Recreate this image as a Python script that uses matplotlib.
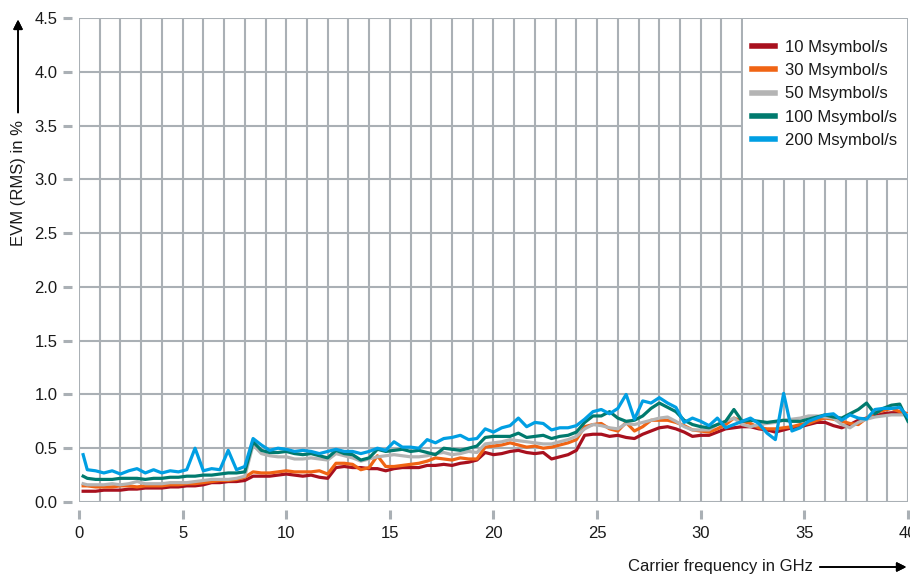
import matplotlib
matplotlib.use('Agg')
import matplotlib.pyplot as plt
from matplotlib.patches import Rectangle
import numpy as np

plt.rcParams['font.family'] = ['Liberation Sans', 'DejaVu Sans']

# Carrier frequency in GHz (first point at 0.2, then every 0.4 GHz)
freq = np.round(np.r_[0.2, np.arange(0.4, 40.01, 0.4)], 1)

# EVM (RMS) in %
evm_10 = [0.10,
          0.10, 0.10, 0.11, 0.11, 0.11, 0.12, 0.12, 0.13, 0.13, 0.13,
          0.14, 0.14, 0.15, 0.15, 0.16, 0.18, 0.18, 0.19, 0.19, 0.20,
          0.24, 0.24, 0.24, 0.25, 0.26, 0.25, 0.24, 0.25, 0.23, 0.22,
          0.32, 0.33, 0.32, 0.32, 0.31, 0.31, 0.29, 0.31, 0.32, 0.32,
          0.32, 0.34, 0.34, 0.35, 0.34, 0.36, 0.37, 0.39, 0.46, 0.44,
          0.45, 0.47, 0.48, 0.46, 0.45, 0.46, 0.40, 0.42, 0.44, 0.48,
          0.62, 0.63, 0.63, 0.61, 0.62, 0.60, 0.59, 0.63, 0.66, 0.69,
          0.70, 0.68, 0.65, 0.61, 0.62, 0.62, 0.65, 0.68, 0.69, 0.70,
          0.70, 0.68, 0.67, 0.65, 0.67, 0.69, 0.70, 0.72, 0.74, 0.74,
          0.71, 0.69, 0.72, 0.76, 0.78, 0.80, 0.82, 0.83, 0.83, 0.82]

evm_30 = [0.15,
          0.15, 0.14, 0.14, 0.14, 0.15, 0.15, 0.14, 0.15, 0.15, 0.15,
          0.16, 0.16, 0.17, 0.17, 0.18, 0.19, 0.20, 0.20, 0.21, 0.23,
          0.28, 0.27, 0.27, 0.28, 0.29, 0.28, 0.28, 0.28, 0.29, 0.26,
          0.36, 0.36, 0.35, 0.30, 0.32, 0.43, 0.33, 0.33, 0.34, 0.35,
          0.36, 0.38, 0.41, 0.40, 0.39, 0.41, 0.40, 0.40, 0.51, 0.52,
          0.53, 0.55, 0.53, 0.51, 0.52, 0.50, 0.51, 0.53, 0.55, 0.58,
          0.70, 0.72, 0.73, 0.68, 0.66, 0.74, 0.66, 0.70, 0.76, 0.76,
          0.76, 0.74, 0.71, 0.67, 0.66, 0.65, 0.68, 0.72, 0.78, 0.75,
          0.73, 0.69, 0.68, 0.68, 0.69, 0.70, 0.72, 0.73, 0.76, 0.78,
          0.77, 0.75, 0.73, 0.72, 0.78, 0.83, 0.85, 0.87, 0.84, 0.82]

evm_50 = [0.17,
          0.16, 0.16, 0.16, 0.17, 0.16, 0.17, 0.19, 0.17, 0.17, 0.17,
          0.18, 0.18, 0.18, 0.19, 0.20, 0.21, 0.21, 0.21, 0.22, 0.24,
          0.53, 0.45, 0.43, 0.42, 0.42, 0.40, 0.40, 0.41, 0.40, 0.39,
          0.45, 0.43, 0.41, 0.38, 0.40, 0.42, 0.43, 0.44, 0.43, 0.42,
          0.42, 0.43, 0.45, 0.46, 0.44, 0.45, 0.47, 0.46, 0.54, 0.55,
          0.56, 0.58, 0.57, 0.56, 0.55, 0.54, 0.54, 0.56, 0.58, 0.61,
          0.68, 0.72, 0.71, 0.69, 0.68, 0.73, 0.72, 0.74, 0.76, 0.78,
          0.79, 0.75, 0.70, 0.67, 0.67, 0.67, 0.72, 0.75, 0.78, 0.72,
          0.70, 0.72, 0.73, 0.74, 0.76, 0.77, 0.78, 0.80, 0.80, 0.79,
          0.78, 0.72, 0.69, 0.74, 0.77, 0.79, 0.80, 0.81, 0.81, 0.81]

evm_100 = [0.24,
           0.22, 0.21, 0.21, 0.21, 0.22, 0.22, 0.22, 0.21, 0.22, 0.22,
           0.23, 0.23, 0.24, 0.24, 0.25, 0.25, 0.26, 0.27, 0.27, 0.28,
           0.56, 0.48, 0.46, 0.46, 0.47, 0.45, 0.44, 0.45, 0.43, 0.41,
           0.48, 0.45, 0.44, 0.39, 0.41, 0.49, 0.47, 0.48, 0.49, 0.47,
           0.48, 0.46, 0.44, 0.50, 0.49, 0.48, 0.50, 0.52, 0.60, 0.61,
           0.61, 0.61, 0.64, 0.60, 0.61, 0.62, 0.59, 0.61, 0.62, 0.65,
           0.74, 0.80, 0.80, 0.84, 0.78, 0.75, 0.76, 0.80, 0.87, 0.92,
           0.88, 0.84, 0.76, 0.72, 0.70, 0.69, 0.72, 0.75, 0.86, 0.75,
           0.76, 0.75, 0.74, 0.75, 0.76, 0.75, 0.75, 0.77, 0.79, 0.81,
           0.79, 0.78, 0.82, 0.86, 0.92, 0.82, 0.87, 0.90, 0.91, 0.75]

evm_200 = [0.44,
           0.30, 0.29, 0.27, 0.29, 0.26, 0.29, 0.31, 0.27, 0.30, 0.27,
           0.29, 0.28, 0.30, 0.50, 0.29, 0.31, 0.30, 0.48, 0.30, 0.33,
           0.59, 0.53, 0.48, 0.50, 0.49, 0.47, 0.48, 0.47, 0.45, 0.47,
           0.49, 0.47, 0.47, 0.45, 0.47, 0.50, 0.48, 0.56, 0.51, 0.51,
           0.50, 0.58, 0.55, 0.59, 0.60, 0.62, 0.58, 0.59, 0.68, 0.65,
           0.69, 0.71, 0.78, 0.70, 0.74, 0.73, 0.67, 0.69, 0.69, 0.71,
           0.77, 0.84, 0.86, 0.82, 0.87, 1.00, 0.77, 0.94, 0.92, 0.97,
           0.92, 0.88, 0.74, 0.78, 0.75, 0.71, 0.78, 0.69, 0.72, 0.75,
           0.78, 0.73, 0.64, 0.58, 1.01, 0.66, 0.69, 0.75, 0.78, 0.81,
           0.82, 0.76, 0.81, 0.78, 0.77, 0.86, 0.87, 0.87, 0.88, 0.79]

labels = ['10 Msymbol/s', '30 Msymbol/s', '50 Msymbol/s',
          '100 Msymbol/s', '200 Msymbol/s']
colors = ['#a8101e', '#f06414', '#b4b4b4', '#007a6e', '#009fe3']
series = [evm_10, evm_30, evm_50, evm_100, evm_200]

grid_col = '#aab0b5'
text_col = '#1a1a1a'

fig = plt.figure(figsize=(9.1, 5.77), dpi=100)
ax = fig.add_axes([0.0868, 0.130, 0.911, 0.8388])

for vals, lab, col in zip(series, labels, colors):
    ax.plot(freq, vals, color=col, lw=2.3, label=lab, zorder=3)

ax.set_xlim(0, 40)
ax.set_ylim(0, 4.5)
ax.set_xticks(np.arange(0, 41, 5))
ax.set_xticks(np.arange(0, 41, 1), minor=True)
ax.set_yticks(np.arange(0, 4.51, 0.5))
ax.set_yticklabels([f'{v:.1f}' for v in np.arange(0, 4.51, 0.5)])

ax.set_axisbelow(True)
ax.grid(True, which='both', color=grid_col, lw=1.5)

for s in ax.spines.values():
    s.set_visible(False)
ax.spines['left'].set_position(('outward', 5))
ax.spines['bottom'].set_position(('outward', 5.5))

ax.tick_params(which='major', direction='out', length=6.5, width=2.2,
               color=grid_col, labelsize=12, labelcolor=text_col)
ax.tick_params(axis='y', pad=4)
ax.tick_params(axis='x', pad=5)
ax.tick_params(which='minor', length=0)

# white box behind the legend
ax.add_patch(Rectangle((32.06, 3.01), 7.88, 1.48, facecolor='white',
                       edgecolor='none', zorder=1))

leg = ax.legend(loc='upper left', bbox_to_anchor=(0.812, 0.955),
                frameon=False, fontsize=12, handlelength=1.4,
                handletextpad=0.6, labelspacing=0.5, borderpad=0,
                borderaxespad=0)
for h in leg.get_lines():
    h.set_linewidth(4)
for t in leg.get_texts():
    t.set_color(text_col)

# axis titles with arrows
fig.text(0.0198, 1 - 120 / 577, 'EVM (RMS) in %', rotation=90, ha='center',
         va='top', fontsize=12, color=text_col)
fig.add_artist(plt.annotate('', xy=(0.0198, 0.966), xytext=(0.0198, 0.805),
                            xycoords='figure fraction',
                            arrowprops=dict(arrowstyle='-|>', color='black',
                                            lw=1.2, mutation_scale=14,
                                            shrinkA=0, shrinkB=0)))
fig.text(0.893, 1 - 566 / 577, 'Carrier frequency in GHz', ha='right',
         va='center', fontsize=12, color=text_col)
fig.add_artist(plt.annotate('', xy=(0.996, 1 - 567 / 577),
                            xytext=(0.901, 1 - 567 / 577),
                            xycoords='figure fraction',
                            arrowprops=dict(arrowstyle='-|>', color='black',
                                            lw=1.2, mutation_scale=14,
                                            shrinkA=0, shrinkB=0)))

fig.savefig('out.png', dpi=100)
